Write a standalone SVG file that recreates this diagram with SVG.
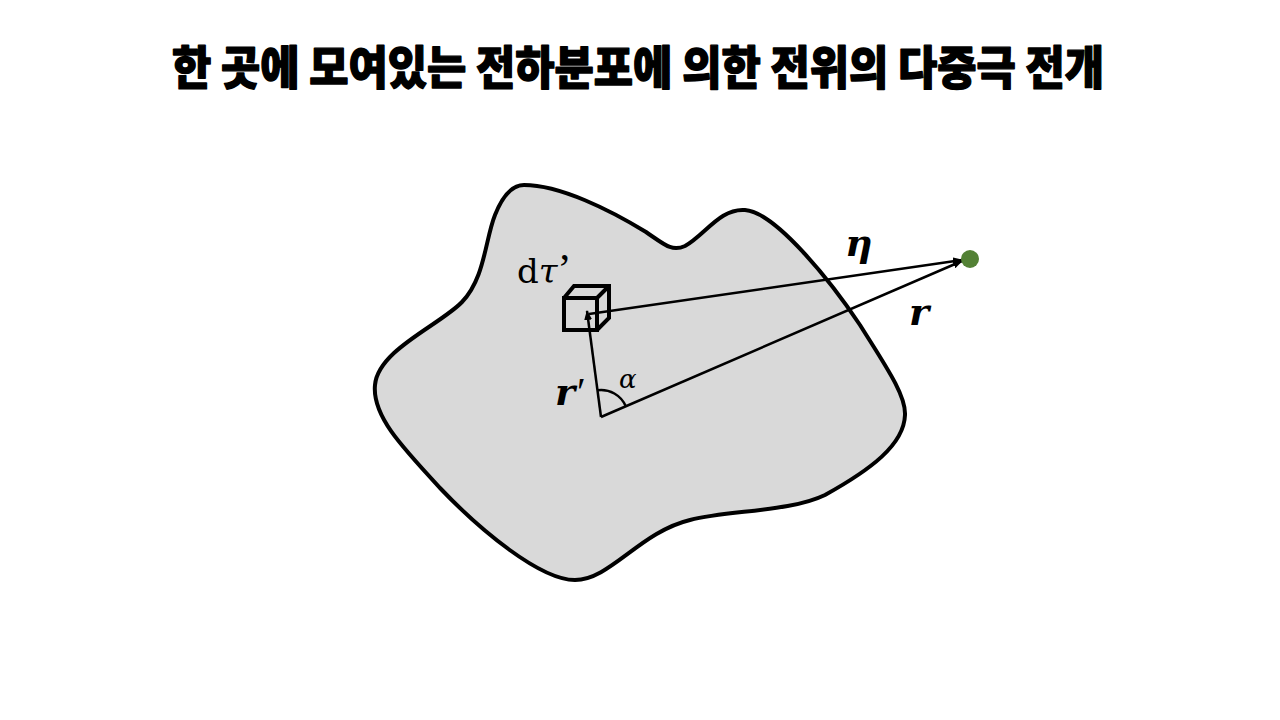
<svg xmlns="http://www.w3.org/2000/svg" width="1280" height="720" viewBox="0 0 1280 720">
<style>
.title{font-family:"Noto Sans CJK KR","Noto Sans",sans-serif;font-weight:900;font-size:46px;fill:#000;stroke:#000;stroke-width:1.4;stroke-linejoin:round}
.math{font-family:"DejaVu Serif","Liberation Serif",serif;fill:#000}
.lib{font-family:"Liberation Serif","DejaVu Serif",serif}
.bi{font-weight:bold;font-style:italic}
.line{stroke:#000;stroke-width:2.5;fill:none}
</style>
<defs>
<marker id="arr" viewBox="0 0 10 8" refX="9" refY="4" markerWidth="10" markerHeight="8" markerUnits="userSpaceOnUse" orient="auto">
<path d="M0,0 L10,4 L0,8 Z" fill="#000"/>
</marker>
</defs>
<rect width="1280" height="720" fill="#fff"/>
<text class="title" x="638" y="84" text-anchor="middle" textLength="932" lengthAdjust="spacingAndGlyphs">한 곳에 모여있는 전하분포에 의한 전위의 다중극 전개</text>
<g id="charge-region">
<path d="M524,185 C560,185 610,210 646,232 C665,245 672,252 685,246 C705,235 720,208 745,210 C775,212 830,280 860,325 C885,365 906,395 905,415 C904,445 870,470 825,495 C790,512 730,510 690,520 C640,532 610,580 575,580 C540,580 480,530 440,488 C400,445 372,415 375,385 C378,350 440,325 462,302 C485,278 485,240 495,215 C503,195 512,185 524,185 Z" fill="#d9d9d9" stroke="#000" stroke-width="4"/>
</g>
<g id="volume-element" fill="none" stroke="#000" stroke-width="4" stroke-linejoin="miter">
<rect x="564" y="298" width="33" height="32"/>
<path d="M564,298 L574,286 L609,286 L609,318 L597,330 M597,298 L609,286"/>
</g>
<g id="connectors">
<line class="line" x1="601" y1="417" x2="587" y2="311" marker-end="url(#arr)"/>
<line class="line" x1="589" y1="314" x2="962" y2="260" marker-end="url(#arr)"/>
<line class="line" x1="601" y1="417" x2="962" y2="261" marker-end="url(#arr)"/>
<path class="line" d="M597.5,390.2 A27,27 0 0 1 625.8,406.3" stroke-width="2"/>
</g>
<g id="point">
<circle cx="970" cy="259" r="9" fill="#538135"/>
</g>
<g id="labels">
<text class="math" x="517" y="283" font-size="34">d<tspan font-style="italic">τ</tspan><tspan class="lib" font-size="42">’</tspan></text>
<text class="math" x="555" y="405" font-size="38"><tspan class="bi">r</tspan><tspan class="lib" font-size="40" dx="2">′</tspan></text>
<text class="math" x="619" y="388" font-size="26" font-style="italic">α</text>
<text class="math bi" x="845" y="256" font-size="38">η</text>
<text class="math bi" x="909" y="325" font-size="38">r</text>
</g>
</svg>
